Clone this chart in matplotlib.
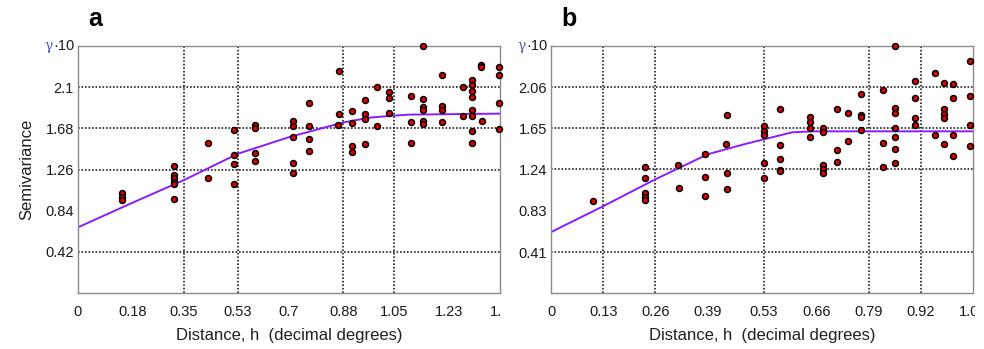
import matplotlib
matplotlib.use("Agg")
from matplotlib import pyplot as plt
from matplotlib.transforms import Bbox, TransformedBbox

plt.rcParams['font.family'] = ['Liberation Sans', 'DejaVu Sans']

# panel a: experimental semivariogram points (distance, semivariance)
a_dist = [0.145, 0.145, 0.145, 0.317, 0.317, 0.317, 0.317, 0.317, 0.317, 0.43, 0.43,
          0.516, 0.516, 0.516, 0.516, 0.586, 0.586, 0.586, 0.586,
          0.712, 0.712, 0.712, 0.712, 0.712, 0.765, 0.765, 0.765, 0.765,
          0.863, 0.865, 0.866, 0.91, 0.91, 0.91, 0.91, 0.952, 0.953, 0.953, 0.953,
          0.992, 0.992, 1.032, 1.032, 1.032, 1.106, 1.106, 1.106, 1.145, 1.145, 1.145,
          1.145, 1.145, 1.145, 1.209, 1.209, 1.209, 1.209, 1.278, 1.278,
          1.306, 1.306, 1.306, 1.306, 1.306, 1.306, 1.306, 1.306, 1.336, 1.336, 1.339,
          1.396, 1.396, 1.396, 1.396]
a_semi = [1.02, 0.98, 0.95, 1.30, 1.20, 1.17, 1.13, 1.11, 0.955, 1.53, 1.17,
          1.66, 1.41, 1.32, 1.11, 1.71, 1.68, 1.43, 1.35,
          1.75, 1.70, 1.59, 1.33, 1.22, 1.94, 1.70, 1.57, 1.45,
          1.71, 1.83, 2.26, 1.86, 1.73, 1.50, 1.44, 1.97, 1.83, 1.78, 1.52,
          2.10, 1.70, 2.05, 1.99, 1.84, 2.01, 1.74, 1.53, 2.52, 1.98, 1.90,
          1.87, 1.75, 1.72, 2.22, 1.91, 1.87, 1.74, 2.10, 1.81,
          2.17, 2.12, 2.06, 2.00, 1.87, 1.81, 1.65, 1.53, 2.33, 2.31, 1.75,
          2.31, 2.22, 1.94, 1.67]

# panel a: fitted model curve
a_model_h = [0.0, 0.18, 0.35, 0.53, 0.7, 0.88, 0.97, 1.05, 1.1, 1.4]
a_model_g = [0.67, 0.92, 1.15, 1.42, 1.59, 1.74, 1.79, 1.81, 1.82, 1.83]

# panel b: experimental semivariogram points
b_dist = [0.104, 0.234, 0.234, 0.234, 0.234, 0.234, 0.317, 0.318, 0.383, 0.383, 0.383,
          0.435, 0.437, 0.437, 0.437, 0.53, 0.53, 0.53, 0.53, 0.53,
          0.57, 0.57, 0.57, 0.57, 0.57, 0.645, 0.645, 0.645, 0.645,
          0.677, 0.677, 0.677, 0.677, 0.677, 0.711, 0.711, 0.711, 0.74, 0.74,
          0.771, 0.771, 0.771, 0.771, 0.827, 0.827, 0.827, 0.856, 0.856, 0.856,
          0.856, 0.856, 0.856, 0.856, 0.905, 0.905, 0.905, 0.905, 0.955, 0.955,
          0.978, 0.978, 0.978, 0.978, 0.978, 1.0, 1.0, 1.0, 1.0,
          1.042, 1.042, 1.042, 1.042]
b_semi = [0.92, 1.26, 1.15, 1.00, 0.96, 0.93, 1.28, 1.05, 1.39, 1.16, 0.97,
          1.49, 1.78, 1.20, 1.04, 1.67, 1.62, 1.58, 1.30, 1.15,
          1.84, 1.48, 1.34, 1.23, 1.22, 1.76, 1.71, 1.65, 1.56,
          1.65, 1.61, 1.28, 1.24, 1.20, 1.84, 1.43, 1.31, 1.80, 1.52,
          1.99, 1.78, 1.76, 1.63, 2.03, 1.50, 1.26, 2.48, 1.85, 1.80,
          1.65, 1.56, 1.44, 1.30, 2.12, 1.95, 1.75, 1.68, 2.20, 1.58,
          2.10, 1.84, 1.79, 1.75, 1.49, 2.09, 1.95, 1.58, 1.37,
          2.32, 1.97, 1.68, 1.47]

b_model_h = [0.0, 0.13, 0.26, 0.39, 0.48, 0.53, 0.6, 0.65, 1.05]
b_model_g = [0.61, 0.87, 1.14, 1.39, 1.49, 1.54, 1.61, 1.62, 1.62]

a_xticks = [0, 0.18, 0.35, 0.53, 0.7, 0.88, 1.05, 1.23, 1.4]
a_yticks = [0.42, 0.84, 1.26, 1.68, 2.1]
a_xgrid = [0.35, 0.53, 0.88, 1.05]
b_xticks = [0, 0.13, 0.26, 0.39, 0.53, 0.66, 0.79, 0.92, 1.05]
b_yticks = [0.41, 0.83, 1.24, 1.65, 2.06]
b_xgrid = [0.13, 0.26, 0.53, 0.79, 0.92]

fig = plt.figure(figsize=(9.84, 3.49), dpi=100)
W, H = 984, 349


def make_panel(rect, letter, dist, semi, mh, mg, xticks, yticks, xgrid, ygrid_idx, xmax, ymax, clip_x):
    ax = fig.add_axes(rect)
    ax.set_xlim(0, xmax)
    ax.set_ylim(0, ymax)
    for s in ax.spines.values():
        s.set_color('#8a8a8a')
        s.set_linewidth(1.0)
    # dotted grid, only on some of the ticks (as in the original)
    for g in xgrid:
        ax.axvline(g, color='#222222', linestyle=(0, (1, 1.1)), linewidth=1.2, zorder=1)
    for i in ygrid_idx:
        ax.axhline(yticks[i], color='#222222', linestyle=(0, (1, 1.1)), linewidth=1.2, zorder=1)
    ax.plot(mh, mg, color='#8a1cff', linewidth=1.4, zorder=2)
    ax.scatter(dist, semi, s=18, color='#e00000', edgecolors='black', linewidths=1.1,
               zorder=3, clip_on=False)
    ax.set_xticks(xticks)
    ax.set_xticklabels([('%g' % t) for t in xticks])
    ax.set_yticks(yticks)
    ax.set_yticklabels([('%g' % t) for t in yticks])
    ax.tick_params(length=0, labelsize=10.5, colors='#1a1a1a')
    ax.tick_params(axis='y', pad=3)
    ax.tick_params(axis='x', pad=9)
    # top label of the y axis
    ax.text(-0.008, 1.0, '·10', transform=ax.transAxes, ha='right', va='center',
            fontsize=10.5, color='#1a1a1a')
    ax.text(-0.06, 1.0, 'γ', transform=ax.transAxes, ha='right', va='center',
            fontsize=10, color='#5060b0', family='DejaVu Serif')
    ax.set_xlabel('Distance, h  (decimal degrees)', fontsize=12, color='#202020', labelpad=6)
    ax.text(0.025, 1.06, letter, transform=ax.transAxes, fontsize=18, fontweight='bold',
            ha='left', va='bottom')
    # last x tick label is cut off at the panel edge
    lab = ax.get_xticklabels()[-1]
    lab.set_clip_box(TransformedBbox(Bbox([[0, 0], [clip_x / W, 1]]), fig.transFigure))
    lab.set_clip_on(True)
    return ax


axa = make_panel([78 / W, 1 - 293 / H, 422 / W, 247 / H], 'a', a_dist, a_semi,
                 a_model_h, a_model_g, a_xticks, a_yticks, a_xgrid, [0, 2, 3, 4],
                 1.4, 2.52, 501)
axa.set_ylabel('Semivariance', fontsize=12, color='#202020', labelpad=8)

axb = make_panel([551 / W, 1 - 293 / H, 422 / W, 247 / H], 'b', b_dist, b_semi,
                 b_model_h, b_model_g, b_xticks, b_yticks, b_xgrid, [0, 2, 3, 4],
                 1.05, 2.475, 975)

fig.savefig('out.png', dpi=100)
